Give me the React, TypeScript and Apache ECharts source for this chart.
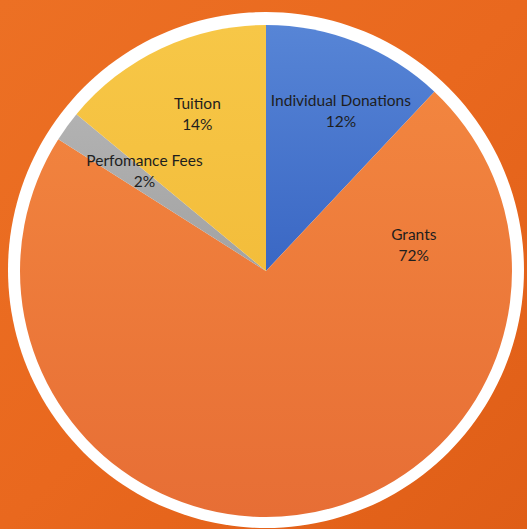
import React, { useEffect, useRef } from "react";
import * as echarts from "echarts";

const categories = ["Individual Donations", "Grants", "Perfomance Fees", "Tuition"];
const values = [12, 72, 2, 14];

const sliceColors = [
  ["#5785d6", "#3a67c4"],
  ["#f2853f", "#e76e35"],
  ["#b2b2b2", "#a2a2a2"],
  ["#f7c747", "#f3bd3b"],
];

// label placement relative to pie centre (angle in degrees clockwise from top, fraction of radius)
const labelPolar = [
  { angle: 25, frac: 0.72 },
  { angle: 80, frac: 0.61 },
  { angle: -50.5, frac: 0.64 },
  { angle: -23.5, frac: 0.7 },
];

const CX = 266;
const CY = 271;
const R = 246;

export default function App() {
  const ref = useRef<HTMLDivElement>(null);
  useEffect(() => {
    if (!ref.current) return;
    const chart = echarts.init(ref.current, null, { renderer: "svg" });
    chart.setOption({
      animation: false,
      backgroundColor: {
        type: "linear",
        x: 0,
        y: 0,
        x2: 1,
        y2: 1,
        colorStops: [
          { offset: 0, color: "#ec7024" },
          { offset: 0.5, color: "#e9681e" },
          { offset: 1, color: "#df5e17" },
        ],
      },
      graphic: [
        {
          type: "circle",
          z: 0,
          silent: true,
          shape: { cx: CX, cy: CY - 1, r: 258 },
          style: { fill: "#ffffff" },
        },
      ],
      series: [
        {
          type: "pie",
          z: 2,
          center: [CX, CY],
          radius: R,
          startAngle: 90,
          clockwise: true,
          silent: true,
          itemStyle: { borderWidth: 0 },
          label: {
            show: true,
            position: "inside",
            color: "#1e1e1e",
            fontFamily: "Lato",
            fontSize: 15.5,
            lineHeight: 21,
            align: "center",
            formatter: (p: any) => `${p.name}\n${Math.round(p.percent)}%`,
          },
          labelLine: { show: false },
          labelLayout: (p: any) => {
            const lp = labelPolar[p.dataIndex];
            const a = (lp.angle * Math.PI) / 180;
            return {
              x: CX + Math.sin(a) * R * lp.frac,
              y: CY - Math.cos(a) * R * lp.frac,
              align: "center",
              verticalAlign: "middle",
            };
          },
          data: categories.map((name, i) => ({
            name,
            value: values[i],
            itemStyle: {
              color: {
                type: "linear",
                x: 0,
                y: 0,
                x2: 0,
                y2: 1,
                colorStops: [
                  { offset: 0, color: sliceColors[i][0] },
                  { offset: 1, color: sliceColors[i][1] },
                ],
              },
            },
          })),
        },
      ],
    });
    return () => chart.dispose();
  }, []);
  return (
    <div
      ref={ref}
      style={{ position: "fixed", left: 0, top: 0, width: 527, height: 529 }}
    />
  );
}
